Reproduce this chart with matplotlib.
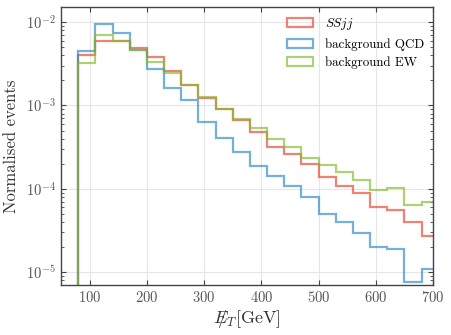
import numpy as np
import matplotlib
matplotlib.use('Agg')
import matplotlib.pyplot as plt

plt.rcParams['font.family'] = 'serif'
plt.rcParams['font.serif'] = ['cmr10']
plt.rcParams['mathtext.fontset'] = 'cm'
plt.rcParams['axes.formatter.use_mathtext'] = True
plt.rcParams['axes.unicode_minus'] = False

# MET bins, 30 GeV wide starting at 80 GeV
bin_edges = np.arange(80, 711, 30)

# normalised event fractions per bin
ssjj = [4.05e-3, 5.85e-3, 5.85e-3, 4.87e-3, 3.76e-3, 2.62e-3, 1.75e-3, 1.24e-3,
        9.0e-4, 6.6e-4, 4.86e-4, 3.21e-4, 2.62e-4, 1.97e-4, 1.38e-4, 1.08e-4,
        8.85e-5, 6.11e-5, 5.58e-5, 4.05e-5, 2.72e-5]
bkg_qcd = [4.5e-3, 9.46e-3, 7.38e-3, 4.65e-3, 2.73e-3, 1.61e-3, 1.16e-3, 6.4e-4,
           4.08e-4, 2.8e-4, 1.88e-4, 1.43e-4, 1.08e-4, 7.9e-5, 5.0e-5, 4.05e-5,
           2.98e-5, 1.99e-5, 1.88e-5, 7.7e-6, 1.08e-5]
bkg_ew = [3.22e-3, 7.05e-3, 5.85e-3, 4.65e-3, 3.28e-3, 2.48e-3, 1.75e-3, 1.27e-3,
          9.0e-4, 6.8e-4, 5.33e-4, 3.94e-4, 3.15e-4, 2.33e-4, 1.94e-4, 1.61e-4,
          1.26e-4, 9.7e-5, 1.03e-4, 6.41e-5, 7.03e-5]

labels = [r'$SSjj$', 'background QCD', 'background EW']
colors = ['#e4412c', '#2a86c6', '#82bb2c']

fig = plt.figure(figsize=(4.52, 3.35), dpi=100)
ax = fig.add_axes([0.135, 0.149, 0.823, 0.829])

centres = 0.5*(bin_edges[:-1] + bin_edges[1:])
for vals, lab, col in zip([ssjj, bkg_qcd, bkg_ew], labels, colors):
    ax.hist(centres, bins=bin_edges, weights=vals, histtype='step',
            color=col, alpha=0.65, lw=1.6, label=lab)

ax.set_yscale('log')
ax.set_xlim(50, 700)
ax.set_ylim(7e-6, 1.5e-2)
ax.set_xticks([100, 200, 300, 400, 500, 600, 700])
ax.grid(True, color='#e6e6e6', lw=0.8)
ax.set_axisbelow(True)

ax.tick_params(which='both', direction='in', top=True, right=True,
               labelsize=10.5, colors='#444444', labelcolor='#555555')
ax.tick_params(which='major', length=3.5, width=0.8)
ax.tick_params(which='minor', length=2, width=0.6)
ax.tick_params(axis='x', which='minor', bottom=False, top=False)
for s in ax.spines.values():
    s.set_color('#444444')
    s.set_linewidth(1.0)

ax.set_xlabel(r'$/\!\!\!\!\!E_T$[GeV]', fontsize=13, color='#333333', labelpad=2)
ax.set_ylabel('Normalised events', fontsize=12, color='#333333', labelpad=5)

ax.legend(loc='upper right', frameon=False, fontsize=9.3,
          handlelength=2.0, borderaxespad=0.3, labelspacing=0.45,
          handletextpad=0.9)

fig.savefig('out.png', dpi=100)
